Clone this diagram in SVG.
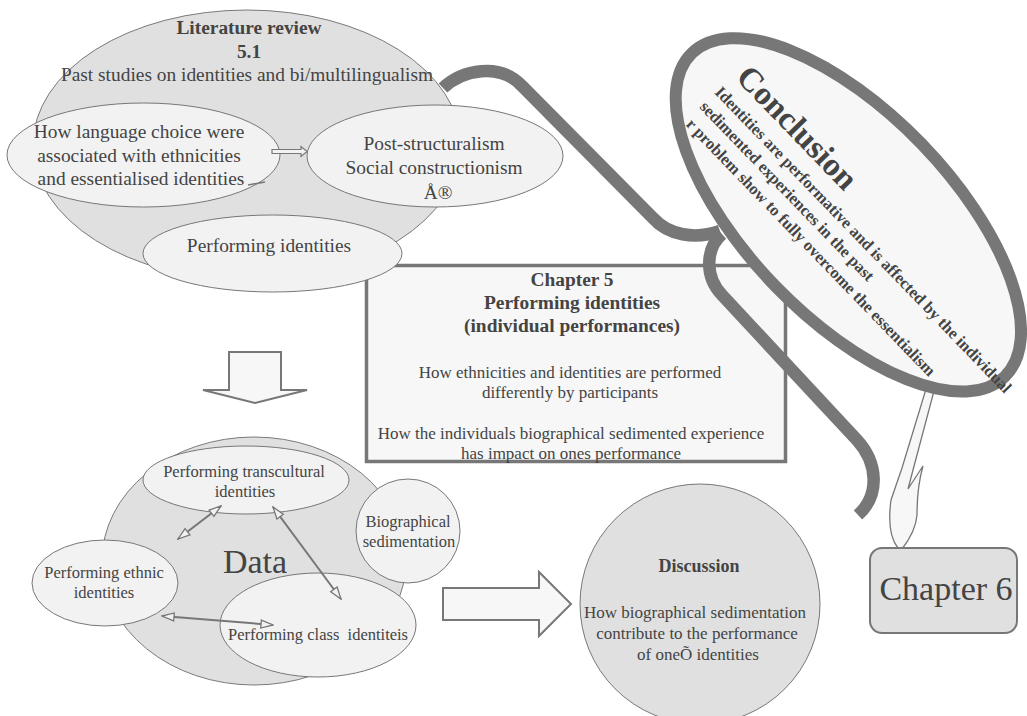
<svg xmlns="http://www.w3.org/2000/svg" width="1027" height="716" viewBox="0 0 1027 716">
<style>
text{font-family:"Liberation Serif","Times New Roman",serif;fill:#444;text-anchor:middle}
.b{font-weight:bold}
.inner{fill:#f2f2f2;stroke:#777;stroke-width:1}
.outer{fill:#e0e0e0;stroke:#7a7a7a;stroke-width:1}
.band{fill:none;stroke:#777;stroke-width:12.5}
.blk{fill:#f7f7f7;stroke:#777;stroke-width:2}
.dbl{stroke:#777;stroke-width:2;fill:none;marker-start:url(#h);marker-end:url(#h)}
.f19{font-size:19.4px}
.f17{font-size:17px}
.f16{font-size:16.5px}
</style>
<defs>
<marker id="h" viewBox="0 0 14 10" refX="13" refY="5" markerWidth="14" markerHeight="10" markerUnits="userSpaceOnUse" orient="auto-start-reverse">
<path d="M1,1 L13,5 L1,9 Z" fill="#f2f2f2" stroke="#777" stroke-width="1.3"/>
</marker>
</defs>
<rect width="1027" height="716" fill="#fff"/>

<g id="chapter5">
<rect x="366.5" y="265.5" width="419" height="196" fill="#f7f7f7" stroke="#777" stroke-width="3.5"/>
<text class="b f19" x="572" y="286">Chapter 5</text>
<text class="b f19" x="572" y="309">Performing identities</text>
<text class="b f19" x="572" y="332">(individual performances)</text>
<text class="f17" x="570" y="378">How ethnicities and identities are performed</text>
<text class="f17" x="570" y="398">differently by participants</text>
<text class="f17" x="571" y="439">How the individuals biographical sedimented experience</text>
<text class="f17" x="571" y="459">has impact on ones performance</text>
</g>

<g id="connectors">
<path class="band" d="M443,88 C462,70 500,62 522,86 L653,218 C668,235 695,240 720,231"/>
<path class="band" d="M722,234 C706,248 704,276 722,295 L857,440 C878,463 880,495 858,515"/>
<path id="stem" d="M926,389 L934,391 L913,470 L908,489 L923,466 C919,480 917,500 917,515 C916,528 909,540 902,549 L898,548 C890,538 888,522 891,500 L902,468 Z" fill="#f7f7f7" stroke="#777" stroke-width="1.3"/>
</g>

<g id="literature">
<ellipse class="outer" cx="247" cy="145" rx="214" ry="135"/>
<text class="b f19" x="249" y="34">Literature review</text>
<text class="b f19" x="249" y="58">5.1</text>
<text class="f19" x="247" y="81">Past studies on identities and bi/multilingualism</text>
<g id="lang">
<ellipse class="inner" cx="143.5" cy="155" rx="136.5" ry="52"/>
<text class="f19" x="139" y="138">How language choice were</text>
<text class="f19" x="139" y="162">associated with ethnicities</text>
<text class="f19" x="141" y="185">and essentialised identities</text>
<path d="M248,185 L265,182" stroke="#777" stroke-width="1.5" fill="none"/>
</g>
<g id="post">
<ellipse class="inner" cx="435" cy="156" rx="128" ry="51"/>
<text class="f19" x="434" y="150">Post-structuralism</text>
<text class="f19" x="434" y="174">Social constructionism</text>
<text class="f19" x="438" y="199">Å®</text>
</g>
<g id="perf">
<ellipse class="inner" cx="272.5" cy="253.5" rx="129.5" ry="38.5"/>
<text class="f19" x="269" y="252">Performing identities</text>
</g>
<path d="M272,149.5 H301 V146.5 L307,151.5 L301,156.5 V153.5 H272 Z" fill="#f2f2f2" stroke="#777" stroke-width="1.2"/>
</g>

<g id="downarrow">
<path class="blk" d="M229,352 H281 V390 H307 L255,403 L203,390 H229 Z"/>
</g>

<g id="data">
<ellipse class="outer" cx="254" cy="561" rx="152" ry="124"/>
<g id="transcultural">
<ellipse class="inner" cx="246" cy="480" rx="103" ry="34"/>
<text class="f16" x="244" y="477">Performing transcultural</text>
<text class="f16" x="245" y="497">identities</text>
</g>
<g id="bio">
<circle class="inner" cx="408" cy="531" r="52"/>
<text class="f16" x="408" y="527">Biographical</text>
<text class="f16" x="409" y="547">sedimentation</text>
</g>
<g id="ethnic">
<ellipse class="inner" cx="105" cy="583" rx="73" ry="43"/>
<text class="f16" x="104" y="578">Performing ethnic</text>
<text class="f16" x="104" y="598">identities</text>
</g>
<g id="class">
<ellipse class="inner" cx="318" cy="625" rx="98" ry="52"/>
<text class="f16" x="318" y="640" xml:space="preserve">Performing class  identiteis</text>
</g>
<text x="255" y="573" style="font-size:34px">Data</text>
<path class="dbl" d="M178,539 L221,506"/>
<path class="dbl" d="M273,507 L341,599"/>
<path class="dbl" d="M162,616 L273,625"/>
</g>

<g id="rightarrow">
<path class="blk" d="M443,588 H539 V572 L571,604 L539,636 V620 H443 Z"/>
</g>

<g id="discussion">
<circle cx="700" cy="604" r="120" fill="#e0e0e0" stroke="#777" stroke-width="1"/>
<text class="b" x="699" y="572" style="font-size:18px">Discussion</text>
<text class="f17" x="695" y="618">How biographical sedimentation</text>
<text class="f17" x="697" y="639">contribute to the performance</text>
<text class="f17" x="698" y="660">of oneÕ identities</text>
</g>

<g id="chapter6">
<rect x="870" y="548" width="147" height="85" rx="12" fill="#e0e0e0" stroke="#777" stroke-width="2"/>
<text x="946" y="600" style="font-size:34px">Chapter 6</text>
</g>

<g id="conclusion" transform="translate(714,93) rotate(46)">
<ellipse cx="181" cy="-12" rx="225" ry="102" fill="#f7f7f7" stroke="#777" stroke-width="12"/>
<g style="text-anchor:start">
<text class="b" x="4" y="-25" style="font-size:33px;text-anchor:start">Conclusion</text>
<text class="b" x="0" y="0" style="font-size:16.5px;text-anchor:start">Identities are performative and is affected by the individual</text>
<text class="b" x="0" y="21" style="font-size:16.5px;text-anchor:start">sedimented experiences in the past</text>
<text class="b" x="3" y="43" style="font-size:16.5px;text-anchor:start">r problem show to fully overcome the essentialism</text>
</g>
</g>
</svg>
